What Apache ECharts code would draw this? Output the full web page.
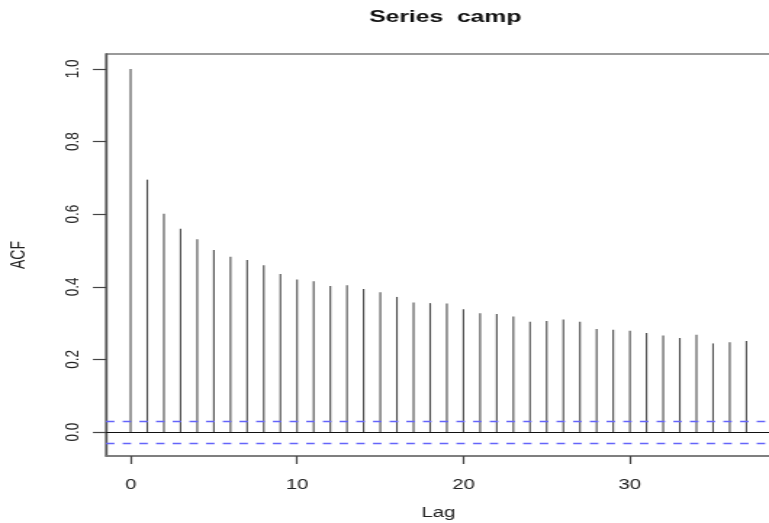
<!DOCTYPE html>
<html>
<head>
<meta charset="utf-8">
<script src="https://cdn.jsdelivr.net/npm/echarts@6/dist/echarts.min.js"></script>
<style>
html,body{margin:0;padding:0;background:#fff;overflow:hidden;}
#wrap{width:769px;height:523px;overflow:hidden;position:relative;}
#c{width:530px;height:523px;transform:scaleX(1.45094);transform-origin:0 0;position:absolute;left:0;top:0;}
</style>
</head>
<body>
<div id="wrap"><div id="c"></div></div>
<script>
const lags = [0,1,2,3,4,5,6,7,8,9,10,11,12,13,14,15,16,17,18,19,20,21,22,23,24,25,26,27,28,29,30,31,32,33,34,35,36,37];
const acfValues = [1.000,0.695,0.601,0.560,0.531,0.501,0.483,0.474,0.459,0.435,0.420,0.415,0.402,0.404,0.394,0.385,0.372,0.357,0.355,0.354,0.338,0.327,0.325,0.318,0.304,0.306,0.310,0.304,0.284,0.282,0.279,0.273,0.266,0.259,0.268,0.244,0.247,0.251];
const confLimit = 0.027;
const xTicks = [0,10,20,30];
const yTicks = [0,0.2,0.4,0.6,0.8,1.0];
const yTickLabels = ['0.0','0.2','0.4','0.6','0.8','1.0'];

const S = 1.45094; // horizontal stretch of the reference image
const chart = echarts.init(document.getElementById('c'), null, {renderer:'canvas', width:530, height:523});
const font = 'Liberation Sans, Arial, Helvetica, sans-serif';
chart.setOption({
  animation:false,
  backgroundColor:'#fff',
  title:{text:'Series  camp', left:438/S, top:4, textAlign:'center',
    textStyle:{fontFamily:font, fontSize:17, fontWeight:'bold', color:'#111'}},
  grid:{left:106/S, top:54, width:665/S, height:402, containLabel:false, outerBoundsMode:'none',
    show:true, borderColor:'#7a7a7a', borderWidth:1.4, backgroundColor:'transparent'},
  xAxis:{type:'value', min:-1.48, max:38.48,
    name:'Lag', nameLocation:'middle', nameGap:50,
    nameTextStyle:{fontFamily:font, fontSize:14, color:'#222'},
    axisLine:{show:true, onZero:false, lineStyle:{color:'#777', width:1.5}},
    axisTick:{show:true, length:8, inside:false, customValues:xTicks, lineStyle:{color:'#444', width:1.2}},
    axisLabel:{customValues:xTicks, margin:22, fontFamily:font, fontSize:14, color:'#222'},
    splitLine:{show:false}},
  yAxis:{type:'value', min:-0.066, max:1.041,
    name:'ACF', nameLocation:'middle', nameGap:53, nameRotate:90,
    nameTextStyle:{fontFamily:font, fontSize:14, color:'#222'},
    axisLine:{show:true, onZero:false, lineStyle:{color:'#555', width:1.4}},
    axisTick:{show:true, length:9, inside:false, customValues:yTicks, lineStyle:{color:'#444', width:1.2}},
    axisLabel:{customValues:yTicks, rotate:90, margin:16, fontFamily:font, fontSize:13.5, color:'#222',
      formatter:function(v){ const i = yTicks.findIndex(t=>Math.abs(t-v)<1e-9); return i>=0 ? yTickLabels[i] : ''; }},
    splitLine:{show:false}},
  series:[{
    type:'custom',
    data: lags.map((l,i)=>[l, acfValues[i]]),
    renderItem:function(params, api){
      const p0 = api.coord([api.value(0), 0]);
      const p1 = api.coord([api.value(0), api.value(1)]);
      return {type:'line', shape:{x1:p0[0], y1:p0[1], x2:p1[0], y2:p1[1]},
        style:{stroke:'#4a4a4a', lineWidth:1.1}};
    },
    markLine:{silent:true, symbol:'none', label:{show:false},
      data:[
        {yAxis:0, lineStyle:{color:'#111', type:'solid', width:1.2}},
        {yAxis:confLimit, lineStyle:{color:'#6464fa', type:[5.8,5.7], width:1.4}},
        {yAxis:-confLimit, lineStyle:{color:'#6464fa', type:[5.8,5.7], width:1.4}}
      ]}
  }]
});
</script>
</body>
</html>
